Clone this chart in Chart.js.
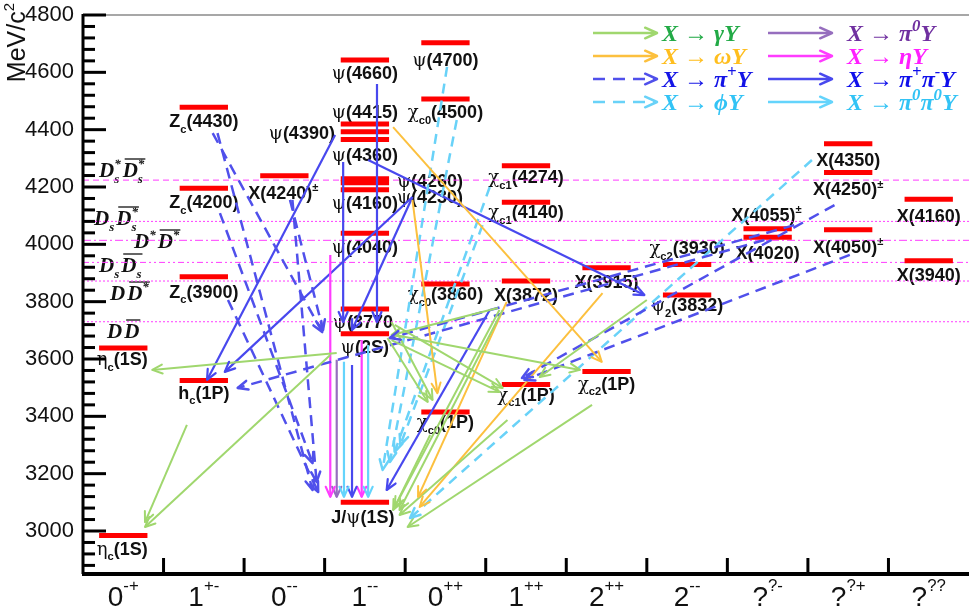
<!DOCTYPE html>
<html>
<head>
<meta charset="utf-8">
<script src="https://cdn.jsdelivr.net/npm/chart.js@4.4.1/dist/chart.umd.min.js"></script>
<style>
  html, body { margin: 0; padding: 0; background: #fff; }
</style>
</head>
<body>
<canvas id="chart" width="969" height="614"></canvas>
<script>
// J^PC columns
const jpcBase = ['0', '1', '0', '1', '0', '1', '2', '2', '?', '?', '?'];
const jpcSup = ['-+', '+-', '--', '--', '++', '++', '++', '--', '?-', '?+', '??'];

// y axis ticks (MeV/c^2)
const yTickLabels = [3000, 3200, 3400, 3600, 3800, 4000, 4200, 4400, 4600, 4800];

// states: name, J^PC column, mass
const stateNames = [
  'η_c(1S)', 'η_c(1S)', 'Z_c(4430)', 'Z_c(4200)', 'Z_c(3900)', 'h_c(1P)', 'X(4240)^±',
  'ψ(4660)', 'ψ(4415)', 'ψ(4390)', 'ψ(4360)', 'ψ(4260)', 'ψ(4230)', 'ψ(4160)', 'ψ(4040)',
  'ψ(3770', 'ψ(2S)', 'J/ψ(1S)',
  'ψ(4700)', 'χ_{c0}(4500)', 'χ_{c0}(3860)', 'χ_{c0}(1P)',
  'χ_{c1}(4274)', 'χ_{c1}(4140)', 'X(3872)', 'χ_{c1}(1P)',
  'X(3915)', 'χ_{c2}(1P)',
  'χ_{c2}(3930)', 'ψ_2(3832)',
  'X(4055)^±', 'X(4020)',
  'X(4350)', 'X(4250)^±', 'X(4050)^±',
  'X(4160)', 'X(3940)'
];
const stateColumns = [0, 0, 1, 1, 1, 1, 2, 3, 3, 3, 3, 3, 3, 3, 3, 3, 3, 3, 4, 4, 4, 4,
  5, 5, 5, 5, 6, 6, 7, 7, 8, 8, 9, 9, 9, 10, 10];
const stateMasses = [2984, 3638, 4478, 4196, 3887, 3525, 4239, 4643, 4420, 4393, 4366,
  4229, 4215, 4190, 4039, 3774, 3688, 3100, 4703, 4507, 3862, 3415, 4274, 4147, 3872, 3511,
  3918, 3556, 3930, 3823, 4054, 4025, 4351, 4251, 4051, 4157, 3943];

// thresholds
const thresholdNames = ['D_s^*|D_s^*', 'D_s|D_s^*', 'D^*|D^*', 'D_s|D_s', 'D|D^*', 'D|D'];
const thresholdMasses = [4224, 4080, 4014, 3937, 3872, 3730];

// transitions [from column pos, from mass, to column pos, to mass]
const gammaArrows = [
  [3.15, 3621, 0.86, 3562], [3.07, 3614, 0.77, 3014], [1.29, 3370, 0.77, 3031],
  [3.83, 3729, 4.34, 3457], [3.78, 3673, 4.28, 3450], [3.83, 3666, 5.17, 3485],
  [3.87, 3719, 5.21, 3499], [3.87, 3684, 6.17, 3562], [5.15, 3778, 3.83, 3684],
  [5.17, 3771, 3.87, 3084], [5.21, 3771, 3.93, 3073], [4.31, 3335, 3.85, 3073],
  [5.27, 3387, 3.93, 3056], [6.32, 3440, 4.03, 3014], [7.00, 3806, 5.67, 3537]
];
const omegaArrows = [
  [3.85, 4409, 6.44, 3590], [4.09, 4155, 4.40, 3481], [5.26, 3799, 4.16, 3119],
  [6.45, 3830, 4.18, 3084]
];
const piArrows = [
  [1.61, 4388, 2.97, 3694], [1.67, 4388, 2.85, 3143], [1.70, 4109, 2.85, 3237],
  [1.80, 3806, 2.92, 3136], [2.57, 4155, 2.98, 3701], [2.60, 4155, 2.90, 3171],
  [8.46, 4015, 1.92, 3499], [8.83, 4067, 3.81, 3673], [9.33, 4137, 5.45, 3534],
  [9.52, 3963, 5.48, 3527]
];
const phiArrows = [
  [4.52, 4619, 3.72, 3213], [4.64, 4434, 3.81, 3241], [5.05, 4200, 3.87, 3276],
  [4.96, 4067, 3.94, 3300], [9.05, 4294, 4.06, 3045]
];
const pipiArrows = [
  [3.13, 4381, 1.54, 3527], [4.09, 4165, 1.76, 3555], [4.09, 4165, 3.34, 3701],
  [3.54, 4294, 6.97, 3823], [5.05, 3771, 3.77, 3143], [3.34, 3579, 3.34, 3119],
  [3.23, 4287, 3.23, 3729], [3.65, 4559, 3.65, 3729]
];
const etaArrows = [[3.07, 3963, 3.07, 3119], [3.46, 3666, 3.46, 3119]];
const pi0Arrows = [[3.15, 3597, 3.15, 3119]];
const pi0pi0Arrows = [[3.24, 3590, 3.24, 3119], [3.54, 3649, 3.54, 3119]];

// ---- styles / placement (not data) ----
const labelPlace = [
  [-1, 19, 'center'], [-1, 17, 'center'], [0, 20, 'center'], [0, 20, 'center'], [0, 21, 'center'],
  [0, 18, 'center'], [-1, 23, 'center'],
  [0, 19, 'center'], [0, -6, 'center'], [-30, 7, 'right'], [0, 22, 'center'], [32, 8, 'left'],
  [32, 20, 'left'], [0, 19, 'center'], [0, 20, 'center'], [-2, 19, 'center'], [0, 19, 'center'],
  [-2, 21, 'center'],
  [0, 23, 'center'], [0, 19, 'center'], [0, 16, 'center'], [0, 16, 'center'],
  [0, 17, 'center'], [0, 16, 'center'], [0, 20, 'center'], [0, 16, 'center'],
  [0, 20, 'center'], [0, 18, 'center'],
  [0, -10, 'center'], [0, 16, 'center'],
  [-1, -8, 'center'], [0, 22, 'center'],
  [0, 22, 'center'], [0, 23, 'center'], [0, 23, 'center'],
  [0, 23, 'center'], [0, 20, 'center']
];
const thresholdDash = [[6, 4], [2, 2, 2, 2], [8, 3, 2, 3], [6, 3, 2, 3, 2, 3], [2, 2], [2, 2]];
const thresholdLabelPos = [[99, 177], [94, 225], [134, 248], [99, 272], [110, 300], [107, 338]];

const kinds = [
  { arrows: gammaArrows, color: 'rgb(160,215,110)', dash: [], width: 2, text: 'X → γY', tcolor: 'rgb(34,170,70)', col: 0, row: 0 },
  { arrows: omegaArrows, color: 'rgb(252,192,62)', dash: [], width: 2, text: 'X → ωY', tcolor: 'rgb(255,190,30)', col: 0, row: 1 },
  { arrows: piArrows, color: 'rgb(80,80,235)', dash: [11, 7], width: 2.5, text: 'X → π^+Y', tcolor: 'rgb(20,20,230)', col: 0, row: 2 },
  { arrows: phiArrows, color: 'rgb(105,210,248)', dash: [10, 7], width: 2.5, text: 'X → ϕY', tcolor: 'rgb(50,195,245)', col: 0, row: 3 },
  { arrows: pi0Arrows, color: 'rgb(150,110,190)', dash: [], width: 2.2, text: 'X → π^0Y', tcolor: 'rgb(112,48,160)', col: 1, row: 0 },
  { arrows: etaArrows, color: 'rgb(255,60,255)', dash: [], width: 2.2, text: 'X → ηY', tcolor: 'rgb(255,30,255)', col: 1, row: 1 },
  { arrows: pipiArrows, color: 'rgb(72,72,238)', dash: [], width: 2.2, text: 'X → π^+π^-Y', tcolor: 'rgb(15,15,235)', col: 1, row: 2 },
  { arrows: pi0pi0Arrows, color: 'rgb(100,212,252)', dash: [], width: 2.2, text: 'X → π^0π^0Y', tcolor: 'rgb(50,195,245)', col: 1, row: 3 }
];

const SANS = '"Liberation Sans", Arial, Helvetica, sans-serif';
const SERIF = '"Liberation Serif", "Times New Roman", serif';
const GREEK = '"DejaVu Serif", serif';

// ---- rich text helpers ----
function tokenize(s) {
  const out = [];
  let i = 0;
  while (i < s.length) {
    const ch = s[i];
    if (ch === '_' || ch === '^') {
      let t;
      if (s[i + 1] === '{') { const j = s.indexOf('}', i); t = s.slice(i + 2, j); i = j + 1; }
      else { t = s[i + 1]; i += 2; }
      out.push({ t, mode: ch === '_' ? 'sub' : 'sup' });
    } else {
      let j = i;
      while (j < s.length && s[j] !== '_' && s[j] !== '^') j++;
      out.push({ t: s.slice(i, j), mode: 'n' });
      i = j;
    }
  }
  return out;
}
function splitGreek(t, greekOn) {
  const runs = [];
  for (const ch of t) {
    const g = greekOn && /[\u0370-\u03ff\u03d5]/.test(ch);
    if (runs.length && runs[runs.length - 1].greek === g) runs[runs.length - 1].t += ch;
    else runs.push({ t: ch, greek: g });
  }
  return runs;
}
function layoutRich(ctx, s, st) {
  const pieces = [];
  let x = 0, subStart = null;
  tokenize(s).forEach(tok => {
    const size = tok.mode === 'n' ? st.size : st.size * (st.scale || 0.65);
    const dy = tok.mode === 'sub' ? st.size * (st.subDrop || 0.3) : tok.mode === 'sup' ? -st.size * (st.supRise || 0.42) : 0;
    const x0 = (tok.mode === 'sup' && subStart !== null) ? subStart : x;
    let xx = x0;
    splitGreek(tok.t, !!st.greekFamily).forEach(run => {
      const font = (run.greek ? st.greekStyle : st.style) + ' ' + size + 'px ' + (run.greek ? st.greekFamily : st.family);
      ctx.font = font;
      pieces.push({ t: run.t, font, x: xx, dy });
      xx += ctx.measureText(run.t).width;
    });
    if (tok.mode === 'sub') { subStart = x0; x = xx; }
    else if (tok.mode === 'sup' && subStart !== null) { x = Math.max(x, xx); subStart = null; }
    else { subStart = null; x = xx; }
  });
  return { pieces, width: x };
}
function drawRich(ctx, s, x, y, st, align) {
  const L = layoutRich(ctx, s, st);
  const x0 = align === 'center' ? x - L.width / 2 : align === 'right' ? x - L.width : x;
  ctx.textAlign = 'left';
  ctx.textBaseline = 'alphabetic';
  ctx.fillStyle = st.color;
  L.pieces.forEach(p => { ctx.font = p.font; ctx.fillText(p.t, x0 + p.x, y + p.dy); });
  return L.width;
}

function drawHead(ctx, x0, y0, x1, y1, len, color, width) {
  const a = Math.atan2(y1 - y0, x1 - x0);
  const sp = 0.42;
  ctx.save();
  ctx.setLineDash([]);
  ctx.strokeStyle = color;
  ctx.lineWidth = width;
  ctx.lineCap = 'round';
  ctx.lineJoin = 'round';
  ctx.beginPath();
  ctx.moveTo(x1 - len * Math.cos(a - sp), y1 - len * Math.sin(a - sp));
  ctx.lineTo(x1, y1);
  ctx.lineTo(x1 - len * Math.cos(a + sp), y1 - len * Math.sin(a + sp));
  ctx.stroke();
  ctx.restore();
}

// ---- datasets ----
const datasets = [];
kinds.forEach(k => {
  k.arrows.forEach(a => {
    datasets.push({
      data: [{ x: a[0], y: a[1] }, { x: a[2], y: a[3] }],
      borderColor: k.color, borderWidth: k.width, borderDash: k.dash,
      pointRadius: 0, order: 0, isArrow: true
    });
  });
});
stateMasses.forEach((m, i) => {
  const c = stateColumns[i];
  datasets.push({
    data: [{ x: c + 0.2, y: m }, { x: c + 0.8, y: m }],
    borderColor: '#ff0000', borderWidth: 5, pointRadius: 0, order: 1
  });
});
thresholdMasses.forEach((m, i) => {
  datasets.push({
    data: [{ x: 0, y: m }, { x: 11, y: m }],
    borderColor: 'rgb(255,60,255)', borderWidth: 1, borderDash: thresholdDash[i],
    pointRadius: 0, order: 2
  });
});

const labelStyle = { size: 18, family: SANS, style: 'bold', greekFamily: GREEK, greekStyle: 'normal', color: '#111', scale: 0.62, subDrop: 0.32 };
const thrStyle = { size: 21, family: SERIF, style: 'bold italic', color: '#111', scale: 0.62, subDrop: 0.3, supRise: 0.45 };
const legStyle = { size: 24, family: SERIF, style: 'bold italic', color: '#000', scale: 0.7, supRise: 0.42 };

const drawPlugin = {
  id: 'spectrum',
  beforeDatasetsDraw(chart) {
    const ctx = chart.ctx, xs = chart.scales.x, ys = chart.scales.y;
    ctx.save();
    // state labels
    stateNames.forEach((n, i) => {
      const cx = xs.getPixelForValue(stateColumns[i] + 0.5);
      const cy = ys.getPixelForValue(stateMasses[i]);
      const p = labelPlace[i];
      drawRich(ctx, n, cx + p[0], cy + p[1], labelStyle, p[2]);
    });
    // threshold labels
    thresholdNames.forEach((n, i) => {
      const parts = n.split('|');
      let x = thresholdLabelPos[i][0];
      const y = thresholdLabelPos[i][1];
      x += drawRich(ctx, parts[0], x, y, thrStyle, 'left') + 2;
      const w = drawRich(ctx, parts[1], x, y, thrStyle, 'left');
      ctx.strokeStyle = '#111';
      ctx.lineWidth = 1.3;
      ctx.beginPath();
      ctx.moveTo(x + 2, y - 18);
      ctx.lineTo(x + w + 1, y - 18);
      ctx.stroke();
    });
    ctx.restore();
  },
  afterDatasetsDraw(chart) {
    const ctx = chart.ctx;
    chart.data.datasets.forEach((ds, i) => {
      if (!ds.isArrow) return;
      const pts = chart.getDatasetMeta(i).data;
      drawHead(ctx, pts[0].x, pts[0].y, pts[1].x, pts[1].y, 11, ds.borderColor, ds.borderWidth);
    });
  },
  afterDraw(chart) {
    const ctx = chart.ctx, xs = chart.scales.x, ys = chart.scales.y, a = chart.chartArea;
    ctx.save();
    // frame top
    ctx.strokeStyle = '#8a8a8a';
    ctx.lineWidth = 1.5;
    ctx.beginPath(); ctx.moveTo(a.left, a.top); ctx.lineTo(a.right, a.top); ctx.stroke();
    // axes
    ctx.strokeStyle = '#000';
    ctx.lineWidth = 3;
    ctx.beginPath(); ctx.moveTo(a.left, a.top - 1); ctx.lineTo(a.left, a.bottom); ctx.stroke();
    ctx.lineWidth = 4;
    ctx.beginPath(); ctx.moveTo(a.left - 1, a.bottom); ctx.lineTo(a.right, a.bottom); ctx.stroke();
    // y ticks
    ctx.lineWidth = 3;
    for (let v = 2880; v <= 4800; v += 40) {
      const y = ys.getPixelForValue(v);
      const len = v % 200 === 0 ? 23 : 12;
      ctx.beginPath(); ctx.moveTo(a.left, y); ctx.lineTo(a.left + len, y); ctx.stroke();
    }
    ctx.fillStyle = '#111';
    ctx.font = '22px ' + SANS;
    ctx.textAlign = 'right';
    ctx.textBaseline = 'middle';
    yTickLabels.forEach(v => ctx.fillText(String(v), a.left - 9, ys.getPixelForValue(v)));
    // x ticks and labels
    for (let i = 1; i < jpcBase.length; i++) {
      const x = xs.getPixelForValue(i);
      ctx.beginPath(); ctx.moveTo(x, a.bottom); ctx.lineTo(x, a.bottom - 16); ctx.stroke();
    }
    const xst = { size: 28, family: SANS, style: 'normal', color: '#111', scale: 0.6, supRise: 0.55 };
    jpcBase.forEach((b, i) => {
      drawRich(ctx, b + '^{' + jpcSup[i] + '}', xs.getPixelForValue(i + 0.5), 606, xst, 'center');
    });
    // y title
    ctx.save();
    ctx.translate(25, 3);
    ctx.rotate(-Math.PI / 2);
    drawRich(ctx, 'MeV/c^2', 0, 0, { size: 25, family: SANS, style: 'normal', color: '#111', scale: 0.6, supRise: 0.45 }, 'right');
    ctx.restore();
    // legend
    const colArrow = [[593, 657, 662], [768, 832, 847]];
    const rowY = [33, 56, 79, 102];
    kinds.forEach(k => {
      const c = colArrow[k.col], y = rowY[k.row];
      ctx.save();
      ctx.strokeStyle = k.color;
      ctx.lineWidth = 2.5;
      ctx.setLineDash(k.dash.length ? [12, 8] : []);
      ctx.beginPath(); ctx.moveTo(c[0], y); ctx.lineTo(c[1] - 2, y); ctx.stroke();
      ctx.restore();
      drawHead(ctx, c[0], y, c[1], y, 13, k.color, 2.5);
      drawRich(ctx, k.text, c[2], y + 8, Object.assign({}, legStyle, { color: k.tcolor }), 'left');
    });
    ctx.restore();
  }
};

new Chart(document.getElementById('chart').getContext('2d'), {
  type: 'line',
  data: { datasets },
  options: {
    responsive: false,
    animation: false,
    layout: { padding: { left: 83, right: 0, top: 15, bottom: 40 } },
    scales: {
      x: { type: 'linear', min: 0, max: 11, display: false },
      y: { type: 'linear', min: 2850, max: 4800, display: false }
    },
    plugins: { legend: { display: false }, tooltip: { enabled: false } },
    elements: { line: { tension: 0 }, point: { radius: 0 } }
  },
  plugins: [drawPlugin]
});
</script>
</body>
</html>
